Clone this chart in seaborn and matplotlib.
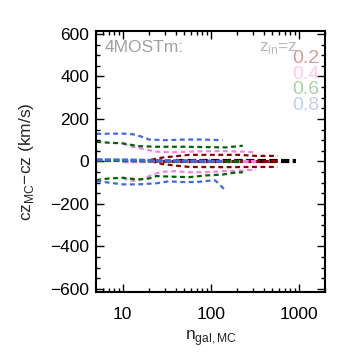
import matplotlib
matplotlib.use("Agg")
import matplotlib.pyplot as plt
import matplotlib.ticker as mticker
import numpy as np
import pandas as pd
import seaborn as sns

# redshift bins and their colours
z_labels = ["0.2", "0.4", "0.6", "0.8"]
line_colors = ["#8b0000", "#ee82ee", "#006400", "#4169e1"]
text_colors = ["#d89a9a", "#ffc8f0", "#a8d2a8", "#c0ccff"]

# z = 0.2
n_up_02 = [21, 28, 37, 57, 88, 136, 210, 328, 575]
up_02 = [8, 18, 23, 31, 31, 31, 31, 26, 26]
n_lo_02 = [21, 28, 40, 57, 136, 328, 575]
lo_02 = [0, -12, -20, -26, -27, -26, -26]
n_mean_02 = [21, 60, 150, 328, 575]
mean_02 = [0, 0, 0, 0, 0]

# z = 0.4
n_up_04 = [10, 12, 15.5, 24, 37, 57, 88, 136, 231, 328]
up_04 = [85, 72, 62, 46, 43, 46, 48, 49, 46, 42]
n_lo_04 = [10, 12, 15.5, 20, 24, 28, 40, 57, 88, 136, 231, 328]
lo_04 = [-77, -92, -88, -69, -57, -49, -46, -51, -51, -46, -43, -38]
n_mean_04 = [10, 20, 50, 120, 328]
mean_04 = [-2, -1, 0, 0, 0]

# z = 0.6
n_up_06 = [5, 7, 10, 15, 24, 50, 100, 150, 231]
up_06 = [92, 88, 85, 72, 69, 69, 67, 66, 74]
n_lo_06 = [5, 7, 10, 15, 20, 24, 37, 57, 88, 136, 178, 231]
lo_06 = [-88, -80, -77, -85, -80, -69, -72, -74, -66, -62, -54, -51]
n_mean_06 = [5, 10, 20, 50, 120, 231]
mean_06 = [4, 4, 2, 1, 0, 0]

# z = 0.8
n_up_08 = [5, 10, 13, 16, 20, 30, 50, 80, 136]
up_08 = [130, 131, 128, 118, 103, 100, 103, 103, 100]
n_lo_08 = [5, 7, 10, 15, 24, 33, 48, 70, 110, 120, 142]
lo_08 = [-92, -100, -108, -108, -103, -94, -97, -97, -88, -100, -131]
n_mean_08 = [5, 10, 20, 40, 80, 142]
mean_08 = [8, 7, 5, 3, 1, 0]

# all galaxies
n_all = [40, 100, 300, 935]
mean_all = [0, 0, 0, 0]

series = [
    (n_up_02, up_02, n_lo_02, lo_02, n_mean_02, mean_02),
    (n_up_04, up_04, n_lo_04, lo_04, n_mean_04, mean_04),
    (n_up_06, up_06, n_lo_06, lo_06, n_mean_06, mean_06),
    (n_up_08, up_08, n_lo_08, lo_08, n_mean_08, mean_08),
]

sns.set_theme(style="ticks")
plt.rcParams["font.family"] = ["Liberation Sans", "DejaVu Sans"]
plt.rcParams["font.size"] = 12.5
plt.rcParams["mathtext.fontset"] = "custom"
plt.rcParams["mathtext.rm"] = "Liberation Sans"

fig = plt.figure(figsize=(3.54, 3.54), dpi=100)
ax = fig.add_axes([0.272, 0.175, 0.647, 0.738])

dot = (0, (2.2, 1.6))
dash = (0, (2.0, 0.8))
for (nu, u, nl, l, nm, m), c in zip(series, line_colors):
    sns.lineplot(x=nu, y=u, ax=ax, color=c, lw=1.6, linestyle=dot,
                 sort=False, estimator=None)
    sns.lineplot(x=nl, y=l, ax=ax, color=c, lw=1.6, linestyle=dot,
                 sort=False, estimator=None)

sns.lineplot(x=n_all, y=mean_all, ax=ax, color="black", lw=3.0, linestyle=dash,
             sort=False, estimator=None)
for (nu, u, nl, l, nm, m), c in zip(series, line_colors):
    sns.lineplot(x=nm, y=m, ax=ax, color=c, lw=2.2, linestyle=dash,
                 sort=False, estimator=None)

ax.set_xscale("log")
ax.set_xlim(5, 2000)
ax.set_ylim(-615, 615)
ax.yaxis.set_major_locator(mticker.MultipleLocator(200))
ax.yaxis.set_minor_locator(mticker.MultipleLocator(50))
ax.xaxis.set_major_formatter(mticker.FuncFormatter(lambda v, p: f"{v:g}"))
ax.yaxis.set_major_formatter(
    mticker.FuncFormatter(lambda v, p: f"{int(round(v))}".replace("-", "\u2212")))
ax.tick_params(which="both", direction="in", top=True, right=True, color="black",
               labelsize=12.5, labelcolor="black", width=1.0)
ax.tick_params(which="major", length=6)
ax.tick_params(axis="x", which="major", pad=11)
ax.tick_params(axis="y", which="major", pad=5)
ax.tick_params(which="minor", length=3)
for s in ax.spines.values():
    s.set_linewidth(1.5)
    s.set_color("black")

ax.set_xlabel(r"n$_{\rm gal,MC}$", fontsize=12.5, labelpad=4)
ax.set_ylabel(r"cz$_{\rm MC}$$-$cz (km/s)", fontsize=12.5, labelpad=10)

ax.text(0.035, 0.965, "4MOSTm:", transform=ax.transAxes, color="#a0a0a0",
        fontsize=12.5, va="top", ha="left")
ax.text(0.88, 0.965, r"z$_{\rm in}$=z", transform=ax.transAxes, color="#b8b8b8",
        fontsize=12.5, va="top", ha="right")
for i, (lab, c) in enumerate(zip(z_labels, text_colors)):
    ax.text(0.975, 0.925 - i * 0.059, lab, transform=ax.transAxes, color=c,
            fontsize=14, va="top", ha="right")

fig.savefig("out.png", dpi=100)
